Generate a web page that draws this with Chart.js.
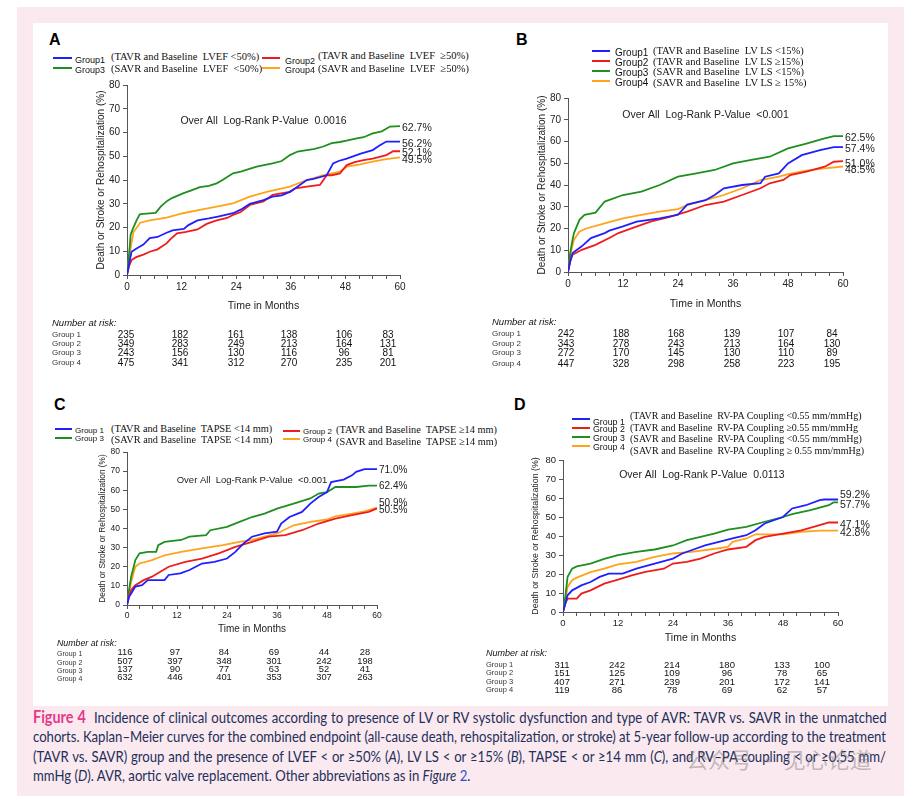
<!DOCTYPE html>
<html>
<head>
<meta charset="utf-8">
<script src="https://cdn.jsdelivr.net/npm/chart.js@4.4.0/dist/chart.umd.min.js"></script>
<style>
  html, body { margin: 0; padding: 0; background: #fff; }
  body { width: 916px; height: 800px; position: relative; overflow: hidden; font-family: "Liberation Sans", Arial, sans-serif; }
  #frame { position: absolute; left: 17px; top: 7px; width: 887px; height: 789px; background: #fbe9f0; }
  #sheet { position: absolute; left: 33px; top: 23px; width: 855px; height: 683px; background: #fff; }
  .t { position: absolute; white-space: pre; line-height: 1; transform: translateY(-50%); color: #111; }
  .mid { transform: translate(-50%, -50%); }
  .serif { font-family: "Liberation Serif", "Times New Roman", serif; }
  .swatch { position: absolute; height: 2px; }
  canvas { position: absolute; }
  #caption { position: absolute; left: 33px; top: 708px; color: #22305a; transform-origin: left top;
             font-family: "Lato", sans-serif; font-size: 15px; }
  #caption div { height: 19.3px; line-height: 19.3px; white-space: nowrap; width: max-content; }
  #caption b { color: #e8388a; font-size: 16.5px; }
  #caption .blue { color: #2a4fd0; }
  #mark { position: absolute; left: 686px; top: 758px; transform: translateY(-50%); font-size: 22px;
          font-family: "Noto Sans CJK SC", sans-serif; color: rgba(120,120,120,0.45); white-space: pre; }
</style>
</head>
<body>
<div id="frame"></div>
<div id="sheet"></div>
<canvas id="chartA"></canvas>
<canvas id="chartB"></canvas>
<canvas id="chartC"></canvas>
<canvas id="chartD"></canvas>
<div id="caption">
  <div><b>Figure 4</b>&nbsp; Incidence of clinical outcomes according to presence of LV or RV systolic dysfunction and type of AVR: TAVR vs. SAVR in the unmatched</div>
  <div>cohorts. Kaplan–Meier curves for the combined endpoint (all-cause death, rehospitalization, or stroke) at 5-year follow-up according to the treatment</div>
  <div>(TAVR vs. SAVR) group and the presence of LVEF &lt; or ≥50% (<i>A</i>), LV LS &lt; or ≥15% (<i>B</i>), TAPSE &lt; or ≥14 mm (<i>C</i>), and RV–PA coupling &lt; or ≥0.55 mm/</div>
  <div>mmHg (<i>D</i>). AVR, aortic valve replacement. Other abbreviations as in <i>Figure</i> <span class="blue">2</span>.</div>
</div>
<div id="mark">公众号 · 见心论道</div>

<script>
// ---- data: [month, % with event] ----

// Panel A: LVEF
const aGroup1 = [[0,0],[0.5,5],[1,9.8],[2.1,11.2],[3.6,12.8],[5,15.5],[6.7,16],[8.7,17.8],[10,18.8],[12.5,19.4],[13.5,21],[15.5,23],[18,23.8],[20,24.6],[23.3,26],[25,27.5],[27,30],[30,31.5],[32,33],[34,33.5],[35.8,35],[37,36.5],[39.5,40],[41,40.5],[43.9,42],[45.3,47],[46.5,48],[48.3,49],[51.2,51],[54,52.6],[55.5,54.5],[57,56.2],[60,56.2]];
const aGroup2 = [[0,0],[0.5,4],[1,6.3],[2,7.5],[3.6,8.6],[5,9.8],[6.7,10.8],[8.7,13.3],[9.5,15],[11,17.5],[13,18.2],[15.5,19.2],[17.5,21.5],[19.7,23],[22,24],[23.3,25.3],[25,26.5],[27,29.5],[30,31],[32,33.7],[35.8,35],[37,36.5],[39.5,37.2],[42.4,37.9],[43.9,42],[45,42],[46.8,42.8],[48.3,46.3],[50,47.5],[52,48.4],[54,49],[57,50.5],[58.5,52.1],[60,52.1]];
const aGroup3 = [[0,0],[0.3,6],[0.6,12],[0.8,17],[1.3,19.5],[2.1,23],[2.8,25.5],[3.6,25.7],[6.3,26.2],[7.5,29],[8.9,31.3],[10,32.5],[12.3,34.4],[14,35.5],[16,37],[18,37.5],[19.7,38.6],[21,40],[23.3,42.8],[25,43.5],[28.5,45.6],[32,47],[34,48],[35.8,50.5],[37.5,52],[39.5,52.6],[41,53],[43,54],[45,55.5],[46.8,56],[48,56.5],[50.5,57.5],[52,58],[54,59.6],[56,60.5],[57.8,62.5],[60,62.7]];
const aGroup4 = [[0,0],[0.3,5],[0.7,10],[1,13.5],[1.4,18],[2.9,22],[5,23],[8.7,24.2],[12.3,26],[16,27.4],[19.7,28.8],[23.3,30.2],[27,33],[30.7,35],[35.8,37.2],[39.5,40],[43,42],[46.8,43.5],[48.3,45.6],[51,46.5],[54,47.7],[57,48.8],[60,49.5]];

// Panel B: LV LS
const bGroup1 = [[0,0],[0.5,5],[1,8.7],[3,11.8],[5,15.6],[8,17.9],[9,19],[12,21],[15,23.2],[20,24.7],[24,26.3],[26,31],[30,33],[32,35.4],[34,38.5],[38,40],[42,40.8],[43,43.8],[46,45.3],[48,49.9],[51,53.7],[55,56],[58,57.4],[60,57.4]];
const bGroup2 = [[0,0],[0.5,5],[1,7.9],[3,10.2],[6,12.5],[9,15.6],[11,17.9],[14,20.2],[18,23.2],[22,25.2],[26,27.8],[30,30.8],[34,32.4],[38,35.4],[42,38.5],[44,40.8],[47,42.3],[48.5,44.6],[52,46.1],[56,48.4],[58,50.7],[60,51]];
const bGroup3 = [[0,0],[0.5,9],[1,15],[1.3,17.9],[2.5,24],[3.6,26.3],[6,27.3],[8,32.4],[12,35.4],[16,37],[20,40],[24,43.8],[28,45.3],[32,46.9],[36,49.9],[40,51.5],[44,53],[48,56.8],[52,59],[56,61.4],[58,62.5],[60,62.5]];
const bGroup4 = [[0,0],[0.5,8],[1.3,14.8],[2.5,18.6],[4,20],[8,22.4],[12,24.7],[16,26.3],[20,27.8],[24,28.9],[26,30.8],[30,33],[34,35.4],[38,38.5],[42,42.3],[46,43.8],[48,45],[52,46.6],[56,47.6],[60,48.5]];

// Panel C: TAPSE
const cGroup1 = [[0,0],[0.5,4.3],[1,6],[2,9.6],[3.6,10.4],[5,13],[9,13],[10,15.7],[12.8,16.5],[15,18.3],[16.5,20],[18,21.7],[21,22.6],[24,24.3],[26,27.8],[28,32.2],[30,35.7],[33,37.4],[36,38.3],[37,42.6],[39,46],[42,48.7],[44,53],[46,56.5],[48,59],[49,64.3],[52,65.6],[54,67.8],[55,69.6],[57,71],[60,71]];
const cGroup2 = [[0,0],[0.5,5],[1,7.8],[2,10.4],[4,13],[6,14.8],[8,17.4],[10,20],[14,22.6],[18,24.3],[22,27],[26,30.4],[30,33],[34,35.7],[38,36.5],[42,39.1],[46,42.6],[50,45.2],[54,47],[58,48.7],[60,50.5]];
const cGroup3 = [[0,0],[0.5,8],[1,14.8],[2,23.5],[3,27],[5,27.8],[7,27.8],[7.5,31.3],[9,33],[13,34],[15,35.7],[19,36.5],[20,39.1],[24,40.9],[27,43.5],[30,46],[33,47.8],[36,50.4],[40,53],[44,55.7],[46,58.3],[48,59],[50,61.7],[55,61.7],[58,62.4],[60,62.4]];
const cGroup4 = [[0,0],[0.5,6],[1,12.2],[2,20],[3,21.7],[6,23.5],[9,26],[13,27.8],[18,29.6],[23,31.3],[27,33],[30,34],[36,37.4],[40,41.7],[44,43.5],[48,44.7],[50,46.4],[54,47.8],[57,49],[60,50.9]];

// Panel D: RV-PA coupling
const dGroup1 = [[0,0],[0.5,4.4],[1,8.8],[2,11.4],[4,14],[6,15.8],[8,18.5],[10,20.2],[13,20.2],[16,22.8],[20,25.5],[24,28.1],[26,30.8],[28,32.5],[31,35.1],[34,36.9],[37,38.7],[40,40.4],[42,43],[44,46.6],[46,48.3],[48,50],[50,54.5],[53,56.2],[56,58.9],[57,59.2],[60,59.2]];
const dGroup2 = [[0,0],[0.5,4.4],[1,7],[3,7],[4,9.7],[6,11.4],[9,14.9],[12,17],[15,19.3],[18,21.1],[22,22.8],[24,25.5],[27,26.4],[30,28.1],[33,30.8],[36,32.9],[40,34.3],[42,37.8],[44,39.5],[48,41.3],[52,43],[56,45.7],[58,47.1],[60,47.1]];
const dGroup3 = [[0,0],[0.5,7.9],[1,18.5],[2,22.8],[3,24],[6,25.5],[9,28],[12,29.9],[16,31.6],[20,32.9],[24,35],[27,37.8],[30,39.5],[33,41.3],[36,43.4],[40,44.8],[44,47.5],[48,50],[50,51.5],[54,53.6],[58,56.2],[59,57.7],[60,57.7]];
const dGroup4 = [[0,0],[0.5,6.2],[1,13.2],[2,16.7],[3,18.1],[6,21],[9,22.8],[12,25.1],[16,26.4],[20,29],[24,30.8],[28,31.6],[32,32.9],[36,34.3],[37,36.9],[40,38.7],[42,40.9],[48,40.9],[52,42.2],[56,42.8],[60,42.8]];

// number at risk, one row per group, at months 0/12/24/36/48/60
const riskA = [[235,182,161,138,106,83],[349,283,249,213,164,131],[243,156,130,116,96,81],[475,341,312,270,235,201]];
const riskB = [[242,188,168,139,107,84],[343,278,243,213,164,130],[272,170,145,130,110,89],[447,328,298,258,223,195]];
const riskC = [[116,97,84,69,44,28],[507,397,348,301,242,198],[137,90,77,63,52,41],[632,446,401,353,307,263]];
const riskD = [[311,242,214,180,133,100],[151,125,109,96,78,65],[407,271,239,201,172,141],[119,86,78,69,62,57]];

const pValues = ['Over All  Log-Rank P-Value  0.0016', 'Over All  Log-Rank P-Value  <0.001', 'Over All  Log-Rank P-Value  <0.001', 'Over All  Log-Rank P-Value  0.0113'];

const legendA = ['(TAVR and Baseline  LVEF <50%)', '(TAVR and Baseline  LVEF  ≥50%)', '(SAVR and Baseline  LVEF  <50%)', '(SAVR and Baseline  LVEF  ≥50%)'];
const legendB = ['(TAVR and Baseline  LV LS <15%)', '(TAVR and Baseline  LV LS ≥15%)', '(SAVR and Baseline  LV LS <15%)', '(SAVR and Baseline  LV LS ≥ 15%)'];
const legendC = ['(TAVR and Baseline  TAPSE <14 mm)', '(TAVR and Baseline  TAPSE ≥14 mm)', '(SAVR and Baseline  TAPSE <14 mm)', '(SAVR and Baseline  TAPSE ≥14 mm)'];
const legendD = ['(TAVR and Baseline  RV-PA Coupling <0.55 mm/mmHg)', '(TAVR and Baseline  RV-PA Coupling ≥0.55 mm/mmHg', '(SAVR and Baseline  RV-PA Coupling <0.55 mm/mmHg)', '(SAVR and Baseline  RV-PA Coupling ≥ 0.55 mm/mmHg)'];

const groupColors = ['#1f1fff', '#ee1c1c', '#1f8f1f', '#ffa31a'];
const yTitle = 'Death or Stroke or Rehospitalization (%)';
const xTitle = 'Time in Months';

// ---- layout of each panel (page pixels) ----
const panels = [
  { id: 'chartA', letter: 'A', letterAt: [49, 40], series: [aGroup1, aGroup2, aGroup3, aGroup4], legend: legendA, risk: riskA,
    area: [127, 85, 400, 275], yW: 36, xH: 41, tick: 10, yT: 10, xT: 10.5, note: 10.5, noteAt: [30, 64.8], endSize: 10.5, nudge: [2.5, 2, 2, 2.5],
    gName: 'Group', gSize: 9, dSize: 10.5,
    leg: [[53,72,58,75,60,111,57],[262,280,58,285,61,318,56],[53,72,68,75,70,111,69],[262,280,68,285,70,318,69]],
    riskLabel: [52, 323], riskRows: [335, 344, 353, 363], riskCols: [126, 180, 236, 289, 344, 388], numSize: 10, rgSize: 8 },
  { id: 'chartB', letter: 'B', letterAt: [516, 40], series: [bGroup1, bGroup2, bGroup3, bGroup4], legend: legendB, risk: riskB,
    area: [568, 98, 843, 272], yW: 36, xH: 42, tick: 10, yT: 10, xT: 10.5, note: 10.5, noteAt: [30, 72.2], endSize: 10.5, nudge: [2, 3, 2, 4],
    gName: 'Group', gSize: 10, dSize: 10.5,
    leg: [[592,610,50.5,615,53,653,51],[592,610,60.5,615,63,653,61.5],[592,610,70.5,615,72.5,653,72],[592,610,80.5,615,82.5,653,82.5]],
    riskLabel: [492, 322], riskRows: [334, 344, 353, 364], riskCols: [566, 621, 676, 732, 786, 832], numSize: 10, rgSize: 8 },
  { id: 'chartC', letter: 'C', letterAt: [54, 405], series: [cGroup1, cGroup2, cGroup3, cGroup4], legend: legendC, risk: riskC,
    area: [127, 452, 377, 605], yW: 33, xH: 34, tick: 8.5, yT: 8.3, xT: 10, note: 9.5, noteAt: [30, 65.4], endSize: 10, nudge: [1, 2, 1, -4.5],
    gName: 'Group ', gSize: 8, dSize: 10.3,
    leg: [[55,72,429,75,431,111,429],[283,300,431,303,432,336,430],[55,72,438,75,439,111,440],[283,300,439,303,440,336,442]],
    riskLabel: [57, 643], riskRows: [653, 661.5, 669.5, 677.5], riskCols: [125, 175, 224, 274, 324, 365], numSize: 9.3, rgSize: 7 },
  { id: 'chartD', letter: 'D', letterAt: [514, 405], series: [dGroup1, dGroup2, dGroup3, dGroup4], legend: legendD, risk: riskD,
    area: [563, 460, 838, 612], yW: 37, xH: 36, tick: 9.5, yT: 8.8, xT: 10.5, note: 10.5, noteAt: [30.3, 72.1], endSize: 10.5, nudge: [-4, 2.5, 2.5, 2.5],
    gName: 'Group ', gSize: 8.8, dSize: 10,
    leg: [[572,590,419,593,422,630,416],[572,590,428,593,429,630,428],[572,590,437,593,438,630,439],[572,590,446,593,447,630,451]],
    riskLabel: [486, 653], riskRows: [665, 673, 681.5, 690], riskCols: [562, 617, 672, 727, 782, 822], numSize: 9.5, rgSize: 7.5 }
];

Chart.defaults.font.family = '"Liberation Sans", Arial, sans-serif';
Chart.defaults.color = '#222';

function addText(x, y, str, size, extra) {
  const el = document.createElement('div');
  el.className = 't' + (extra && extra.cls ? ' ' + extra.cls : '');
  el.textContent = str;
  el.style.left = x + 'px';
  el.style.top = y + 'px';
  el.style.fontSize = size + 'px';
  if (extra && extra.css) Object.assign(el.style, extra.css);
  document.body.appendChild(el);
  return el;
}

// log-rank note and the end-of-curve percentages
const kmText = {
  id: 'kmText',
  afterDatasetsDraw(chart, args, opts) {
    const { ctx, chartArea, scales: { x, y } } = chart;
    ctx.save();
    ctx.fillStyle = '#222';
    ctx.textBaseline = 'middle';
    ctx.font = opts.noteSize + 'px "Liberation Sans", Arial, sans-serif';
    ctx.textAlign = 'center';
    ctx.fillText(opts.note, x.getPixelForValue(opts.noteAt[0]), y.getPixelForValue(opts.noteAt[1]));
    ctx.font = opts.endSize + 'px "Liberation Sans", Arial, sans-serif';
    ctx.textAlign = 'left';
    chart.data.datasets.forEach((ds, i) => {
      const last = ds.data[ds.data.length - 1];
      ctx.fillText(last.y.toFixed(1) + '%', chartArea.right + 2, y.getPixelForValue(last.y) + opts.nudge[i]);
    });
    ctx.restore();
  }
};

panels.forEach((p, k) => {
  const [L, T, R, B] = p.area;
  const pad = { left: 2, top: 14, right: 40, bottom: 2 };
  const cx = L - p.yW - pad.left, cy = T - pad.top;
  const cw = R + pad.right - cx, ch = B + p.xH + pad.bottom - cy;
  const canvas = document.getElementById(p.id);
  canvas.width = cw; canvas.height = ch;
  canvas.style.left = cx + 'px'; canvas.style.top = cy + 'px';
  canvas.style.width = cw + 'px'; canvas.style.height = ch + 'px';

  new Chart(canvas, {
    type: 'line',
    data: {
      datasets: p.series.map((s, i) => ({
        label: 'Group ' + (i + 1),
        data: s.map(pt => ({ x: pt[0], y: pt[1] })),
        borderColor: groupColors[i],
        borderWidth: 1.8,
        pointRadius: 0,
        tension: 0,
        fill: false
      }))
    },
    options: {
      responsive: false,
      animation: false,
      layout: { padding: pad },
      plugins: {
        legend: { display: false },
        tooltip: { enabled: false },
        kmText: { note: pValues[k], noteAt: p.noteAt, noteSize: p.note, endSize: p.endSize, nudge: p.nudge }
      },
      scales: {
        x: {
          type: 'linear', min: 0, max: 60,
          afterFit: s => { s.height = p.xH; },
          grid: { drawOnChartArea: false, tickLength: 4, color: '#555' },
          border: { color: '#555' },
          ticks: { stepSize: 3, autoSkip: false, maxRotation: 0, padding: 2, font: { size: p.tick },
                   callback: v => (v % 12 === 0 ? v : '') },
          title: { display: true, text: xTitle, font: { size: p.xT } }
        },
        y: {
          min: 0, max: 80,
          afterFit: s => { s.width = p.yW; },
          grid: { drawOnChartArea: false, tickLength: 4, color: '#555' },
          border: { color: '#555' },
          ticks: { stepSize: 10, padding: 3, font: { size: p.tick } },
          title: { display: true, text: yTitle, font: { size: p.yT } }
        }
      }
    },
    plugins: [kmText]
  });

  // panel letter
  addText(p.letterAt[0], p.letterAt[1], p.letter, 16, { css: { fontWeight: 'bold', color: '#000' } });

  // legend
  p.leg.forEach((g, i) => {
    const sw = document.createElement('div');
    sw.className = 'swatch';
    sw.style.left = g[0] + 'px'; sw.style.width = (g[1] - g[0]) + 'px';
    sw.style.top = (g[2] - 1) + 'px'; sw.style.background = groupColors[i];
    document.body.appendChild(sw);
    addText(g[3], g[4], p.gName + (i + 1), p.gSize);
    addText(g[5], g[6], p.legend[i], p.dSize, { cls: 'serif' });
  });

  // number at risk
  addText(p.riskLabel[0], p.riskLabel[1], 'Number at risk:', p.numSize - 0.5, { css: { fontStyle: 'italic' } });
  p.risk.forEach((row, i) => {
    addText(p.riskLabel[0], p.riskRows[i], 'Group ' + (i + 1), p.rgSize, { css: { color: '#333' } });
    row.forEach((n, j) => {
      addText(p.riskCols[j], p.riskRows[i], String(n), p.numSize, { cls: 'mid' });
    });
  });
});

// caption: squeeze to the sheet width and justify the first three lines
const capWidth = 853;
const cap = document.getElementById('caption');
const capLines = Array.from(cap.children);
const natural = capLines.map(el => el.getBoundingClientRect().width);
const squeeze = Math.min(1, ...natural.slice(0, 3).map(w => capWidth / w));
cap.style.transform = 'scaleX(' + squeeze + ')';
capLines.slice(0, 3).forEach((el, i) => {
  const gaps = (el.textContent.trim().match(/\s+/g) || []).length;
  el.style.wordSpacing = ((capWidth / squeeze - natural[i]) / gaps) + 'px';
});
</script>
</body>
</html>
